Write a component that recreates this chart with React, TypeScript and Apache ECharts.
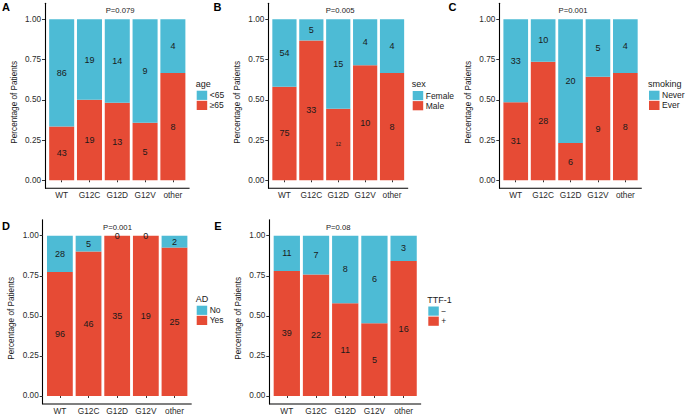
import React, { useEffect, useRef } from "react";
import * as echarts from "echarts";

// ---- data ----
const categories = ["WT", "G12C", "G12D", "G12V", "other"];
const yTicks = [0, 0.25, 0.5, 0.75, 1];

const ageLabels = ["<65", "≥65"];
const ageUnder65 = [86, 19, 14, 9, 4];
const ageOver65 = [43, 19, 13, 5, 8];

const sexLabels = ["Female", "Male"];
const sexFemale = [54, 5, 15, 4, 4];
const sexMale = [75, 33, 12, 10, 8];

const smokingLabels = ["Never", "Ever"];
const smokingNever = [33, 10, 20, 5, 4];
const smokingEver = [31, 28, 6, 9, 8];

const adLabels = ["No", "Yes"];
const adNo = [28, 5, 0, 0, 2];
const adYes = [96, 46, 35, 19, 25];

const ttfLabels = ["−", "+"];
const ttfNeg = [11, 7, 8, 6, 3];
const ttfPos = [39, 22, 11, 5, 16];

const pValues = ["P=0.079", "P=0.005", "P=0.001", "P=0.001", "P=0.08"];
const panelLetters = ["A", "B", "C", "D", "E"];
const legendTitles = ["age", "sex", "smoking", "AD", "TTF-1"];

const panelsData = [
  { labels: ageLabels, top: ageUnder65, bottom: ageOver65 },
  { labels: sexLabels, top: sexFemale, bottom: sexMale },
  { labels: smokingLabels, top: smokingNever, bottom: smokingEver },
  { labels: adLabels, top: adNo, bottom: adYes },
  { labels: ttfLabels, top: ttfNeg, bottom: ttfPos },
];

// ---- layout / styles ----
const BLUE = "#4DBBD5";
const RED = "#E64B35";
const FONT = "Liberation Sans, Arial, sans-serif";

const layout = [
  { ax: 45, band: 27.8, top: 3.2, bottom: 188.3, pdx: 2.7, letter: [6, 6.5], leg: [196.7, 90.7] },
  { ax: 268.3, band: 26.9, top: 3.2, bottom: 188.3, pdx: 2.67, letter: [217.5, 6.5], leg: [412.7, 91] },
  { ax: 499.3, band: 27.4, top: 3.2, bottom: 188.3, pdx: 2.69, letter: [452.5, 6.5], leg: [649, 90.7] },
  { ax: 42.7, band: 28.65, top: 219.7, bottom: 404, pdx: 2.61, letter: [6, 225.5], leg: [196.7, 305.7] },
  { ax: 269.3, band: 29.2, top: 219.7, bottom: 404, pdx: 2.36, letter: [218, 225.5], leg: [428.3, 306.5] },
];
// the small "12" label in panel B (G12D, bottom segment)
const smallLabel = { panel: 1, index: 2, size: 5 };

export default function App() {
  const ref = useRef<HTMLDivElement>(null);
  useEffect(() => {
    if (!ref.current) return;
    const chart = echarts.init(ref.current, null, { renderer: "svg" });

    const grids: any[] = [];
    const xAxes: any[] = [];
    const yAxes: any[] = [];
    const series: any[] = [];
    const legends: any[] = [];
    const graphics: any[] = [];

    panelsData.forEach((pd, i) => {
      const L = layout[i];
      const off = 0.1 * L.band;
      grids.push({ left: L.ax + off, width: 5 * L.band, top: L.top, height: L.bottom - L.top });
      xAxes.push({
        type: "category",
        gridIndex: i,
        data: categories,
        axisLine: { show: false },
        axisTick: { show: true, alignWithLabel: true, length: 2, lineStyle: { color: "#333" } },
        axisLabel: { interval: 0, fontSize: 8.3, color: "#2a2a2a", margin: 2.5, fontFamily: FONT },
        splitLine: { show: false },
      });
      yAxes.push({
        type: "value",
        gridIndex: i,
        min: -0.05,
        max: 1.1,
        offset: off,
        axisLine: { show: true, lineStyle: { color: "#000", width: 1.1 } },
        axisTick: { show: true, customValues: yTicks, length: 3, lineStyle: { color: "#333" } },
        axisLabel: {
          customValues: yTicks,
          formatter: (v: number) => v.toFixed(2),
          fontSize: 8.2,
          color: "#2a2a2a",
          margin: 4,
          fontFamily: FONT,
        },
        splitLine: { show: false },
      });
      const totals = pd.top.map((t, k) => t + pd.bottom[k]);
      const mk = (arr: number[], isBottom: boolean) =>
        arr.map((c, k) => {
          const item: any = { value: c / totals[k], count: c };
          if (isBottom && i === smallLabel.panel && k === smallLabel.index) {
            item.label = { fontSize: smallLabel.size };
          }
          return item;
        });
      const lbl = {
        show: true,
        position: "inside",
        fontSize: 9,
        color: "#1a1a1a",
        fontFamily: FONT,
        formatter: (p: any) => String(p.data.count),
      };
      series.push({
        type: "bar",
        name: pd.labels[1],
        xAxisIndex: i,
        yAxisIndex: i,
        stack: "s" + i,
        barWidth: "90%",
        itemStyle: { color: RED },
        label: lbl,
        data: mk(pd.bottom, true),
      });
      series.push({
        type: "bar",
        name: pd.labels[0],
        xAxisIndex: i,
        yAxisIndex: i,
        stack: "s" + i,
        barWidth: "90%",
        itemStyle: { color: BLUE },
        label: lbl,
        data: mk(pd.top, false),
      });
      legends.push({
        orient: "vertical",
        left: L.leg[0],
        top: L.leg[1],
        padding: 0,
        itemWidth: 10.5,
        itemHeight: 9.2,
        itemGap: 0.9,
        icon: "rect",
        selectedMode: false,
        data: [pd.labels[0], pd.labels[1]],
        textStyle: { fontSize: 8.5, color: "#1a1a1a", fontFamily: FONT, padding: [0, 0, 0, -2.5] },
      });
      // x axis line
      graphics.push({
        type: "line",
        shape: { x1: L.ax, y1: L.bottom, x2: L.ax + 5.2 * L.band, y2: L.bottom },
        style: { stroke: "#000", lineWidth: 1.1 },
      });
      // panel letter
      graphics.push({
        type: "text",
        x: L.letter[0],
        y: L.letter[1],
        style: {
          text: panelLetters[i],
          font: `bold 11px ${FONT}`,
          fill: "#000",
          align: "center",
          verticalAlign: "middle",
          textAlign: "center",
          textVerticalAlign: "middle",
        },
      });
      // P value
      graphics.push({
        type: "text",
        x: L.ax + L.pdx * L.band,
        y: L.top + 7.3,
        style: {
          text: pValues[i],
          font: `7.7px ${FONT}`,
          fill: "#1a1a1a",
          align: "center",
          verticalAlign: "middle",
          textAlign: "center",
          textVerticalAlign: "middle",
        },
      });
      // y axis title
      graphics.push({
        type: "text",
        x: L.ax - 31,
        y: (L.top + L.bottom) / 2 + 6.5,
        rotation: Math.PI / 2,
        style: {
          text: "Percentage of Patients",
          font: `8.2px ${FONT}`,
          fill: "#1a1a1a",
          align: "center",
          verticalAlign: "middle",
          textAlign: "center",
          textVerticalAlign: "middle",
        },
      });
      // legend title
      graphics.push({
        type: "text",
        x: L.leg[0] - 1,
        y: L.leg[1] - 6.7,
        style: {
          text: legendTitles[i],
          font: `9px ${FONT}`,
          fill: "#1a1a1a",
          align: "left",
          verticalAlign: "middle",
          textAlign: "left",
          textVerticalAlign: "middle",
        },
      });
    });

    chart.setOption({
      animation: false,
      backgroundColor: "#fff",
      textStyle: { fontFamily: FONT },
      grid: grids,
      xAxis: xAxes,
      yAxis: yAxes,
      legend: legends,
      series,
      graphic: graphics,
    });
    return () => chart.dispose();
  }, []);
  return (
    <div
      ref={ref}
      style={{ position: "fixed", left: 0, top: 0, width: 685, height: 417, background: "#fff" }}
    />
  );
}
